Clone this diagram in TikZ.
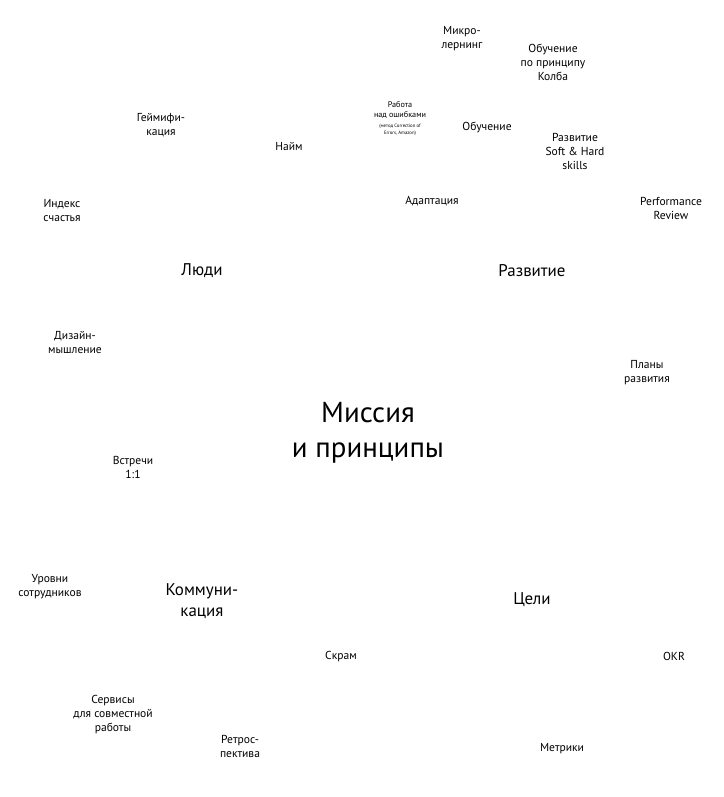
\documentclass[tikz,border=0pt]{standalone}
\usepackage{fontspec}
\setmainfont{PT Sans}
\begin{document}
\begin{tikzpicture}[x=1bp,y=-1bp,
  lbl/.style={inner sep=0pt,align=center,font=\fontsize{11.6}{14}\selectfont},
  tiny/.style={inner sep=0pt,align=center,font=\fontsize{8.2}{10}\selectfont},
  micro/.style={inner sep=0pt,align=center,font=\fontsize{4.8}{7}\selectfont},
  mid/.style={inner sep=0pt,align=center,font=\fontsize{17}{21}\selectfont},
  big/.style={inner sep=0pt,align=center,font=\fontsize{29}{35}\selectfont}]
\useasboundingbox[fill=white] (0,0) rectangle (724,797);
\begin{scope}[yshift=-1.5bp]
\node[lbl] (mikro) at (462,37) {Микро-\\лернинг};
\node[lbl] (kolb) at (553,61) {Обучение\\по принципу\\Колба};
\node[lbl] (geim) at (161,124) {Геймифи-\\кация};
\node[lbl] (naim) at (289,145) {Найм};
\node[tiny] (rabota) at (400,109) {Работа\\над ошибками};
\node[micro] (metod) at (400,128.5) {(метод Correction of\\Errors, Amazon)};
\node[lbl] (obuch) at (487,126) {Обучение};
\node[lbl] (soft) at (575,150) {Развитие\\Soft \& Hard\\skills};
\node[lbl] (index) at (62,209) {Индекс\\счастья};
\node[lbl] (adapt) at (432,200) {Адаптация};
\node[lbl] (perf) at (671,207) {Performance\\Review};
\node[mid] (ludi) at (202,269) {Люди};
\node[mid] (razv) at (532,269) {Развитие};
\node[lbl] (dizain) at (75,341) {Дизайн-\\мышление};
\node[lbl] (plany) at (647,371) {Планы\\развития};
\node[big] (missia) at (368,431) {Миссия\\и принципы};
\node[lbl] (vstr) at (133,466) {Встречи\\1:1};
\node[lbl] (urovni) at (50,585) {Уровни\\сотрудников};
\node[mid] (komm) at (202,600) {Коммуни-\\кация};
\node[mid] (celi) at (532,598) {Цели};
\node[lbl] (skram) at (341,655) {Скрам};
\node[lbl] (okr) at (674,655) {OKR};
\node[lbl] (serv) at (113,713) {Сервисы\\для совместной\\работы};
\node[lbl] (retro) at (240,745) {Ретрос-\\пектива};
\node[lbl] (metr) at (562,747) {Метрики};
\end{scope}
\end{tikzpicture}
\end{document}
